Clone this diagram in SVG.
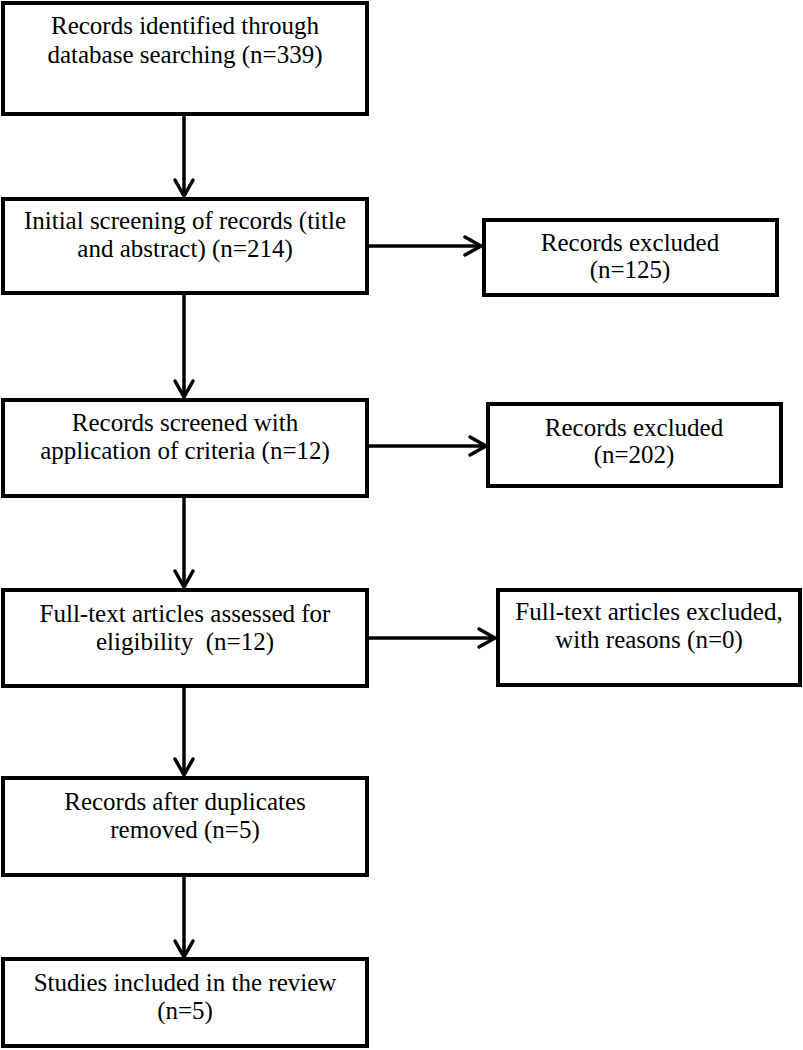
<svg xmlns="http://www.w3.org/2000/svg" width="803" height="1050" viewBox="0 0 803 1050">
<style>
.box{fill:#fff;stroke:#000;stroke-width:4}
.t{font-family:"Liberation Serif","Times New Roman",serif;font-size:25px;fill:#000;text-anchor:middle}
.c{fill:none;stroke:#000;stroke-width:3.5}
</style>
<defs>
<marker id="ah" markerUnits="userSpaceOnUse" markerWidth="24" markerHeight="24" viewBox="-20 -12 24 24" refX="0" refY="0" orient="auto">
<path d="M-16,-9 L0,0 L-16,9" fill="none" stroke="#000" stroke-width="3.5" stroke-linecap="round" stroke-linejoin="miter"/>
</marker>
</defs>
<rect width="803" height="1050" fill="#fff"/>
<g id="connectors">
<line class="c" x1="184" y1="115" x2="184" y2="196" marker-end="url(#ah)"/>
<line class="c" x1="184" y1="295" x2="184" y2="397" marker-end="url(#ah)"/>
<line class="c" x1="184" y1="498" x2="184" y2="587" marker-end="url(#ah)"/>
<line class="c" x1="184" y1="688" x2="184" y2="775" marker-end="url(#ah)"/>
<line class="c" x1="184" y1="877" x2="184" y2="957" marker-end="url(#ah)"/>
<line class="c" x1="369" y1="246" x2="481" y2="246" marker-end="url(#ah)"/>
<line class="c" x1="369" y1="446" x2="486" y2="446" marker-end="url(#ah)"/>
<line class="c" x1="369" y1="638" x2="495" y2="638" marker-end="url(#ah)"/>
</g>
<g id="n1">
<rect class="box" x="3" y="3" width="364" height="111"/>
<text class="t" x="185" y="34">Records identified through</text>
<text class="t" x="185" y="63">database searching (n=339)</text>
</g>
<g id="n2">
<rect class="box" x="3" y="199" width="364" height="94"/>
<text class="t" x="185" y="229">Initial screening of records (title</text>
<text class="t" x="185" y="257">and abstract) (n=214)</text>
</g>
<g id="n3">
<rect class="box" x="3" y="400" width="364" height="96"/>
<text class="t" x="185" y="431">Records screened with</text>
<text class="t" x="185" y="459">application of criteria (n=12)</text>
</g>
<g id="n4">
<rect class="box" x="3" y="590" width="364" height="96"/>
<text class="t" x="185" y="622">Full-text articles assessed for</text>
<text class="t" x="185" y="650" xml:space="preserve">eligibility  (n=12)</text>
</g>
<g id="n5">
<rect class="box" x="3" y="778" width="364" height="97"/>
<text class="t" x="185" y="810">Records after duplicates</text>
<text class="t" x="185" y="838">removed (n=5)</text>
</g>
<g id="n6">
<rect class="box" x="3" y="959" width="364" height="87"/>
<text class="t" x="185" y="991">Studies included in the review</text>
<text class="t" x="185" y="1019">(n=5)</text>
</g>
<g id="r1">
<rect class="box" x="484" y="220" width="293" height="75"/>
<text class="t" x="630" y="251">Records excluded</text>
<text class="t" x="630" y="278">(n=125)</text>
</g>
<g id="r2">
<rect class="box" x="488" y="404" width="293" height="82"/>
<text class="t" x="634" y="436">Records excluded</text>
<text class="t" x="634" y="463">(n=202)</text>
</g>
<g id="r3">
<rect class="box" x="498" y="590" width="302" height="95"/>
<text class="t" x="649" y="620">Full-text articles excluded,</text>
<text class="t" x="649" y="648">with reasons (n=0)</text>
</g>
</svg>
